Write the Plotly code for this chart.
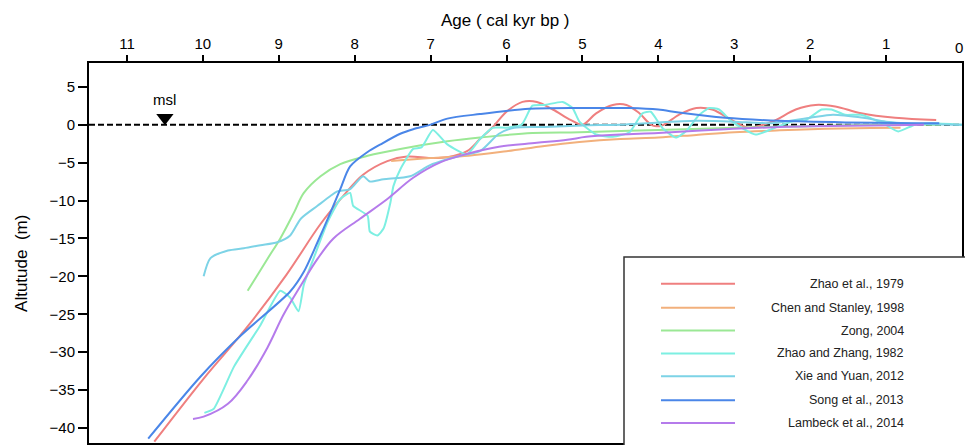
import plotly.graph_objects as go

# ---------------- data (ages in cal kyr BP, altitude in m) ----------------
names = ["Zhao et al., 1979", "Chen and Stanley, 1998", "Zong, 2004",
         "Zhao and Zhang, 1982", "Xie and Yuan, 2012", "Song et al., 2013",
         "Lambeck et al., 2014"]
colors = ["#EF7F7F", "#F2B07C", "#9BE895", "#7DEFE2", "#7DD3E6", "#4A86E8", "#B57BEB"]

zhao1979_age = [10.64, 10.0, 9.41, 8.9, 8.45, 8.15, 7.89, 7.57, 7.31, 7.0, 6.78, 6.52, 6.35, 6.18,
                6.0, 5.79, 5.6, 5.39, 5.15, 5.0, 4.82, 4.6, 4.42, 4.25, 4.08, 3.95, 3.73, 3.5,
                3.29, 3.03, 2.81, 2.5, 2.19, 1.93, 1.67, 1.33, 0.88, 0.34]
zhao1979_alt = [-41.8, -33.6, -26.6, -19.8, -13.1, -9.4, -6.6, -4.8, -4.2, -4.4, -4.3, -3.5, -1.9, -0.3,
                1.7, 3.0, 3.0, 2.0, 0.6, 0.0, 1.5, 2.6, 2.6, 1.5, -0.1, -0.1, 1.3, 2.2,
                2.0, 0.6, -0.4, 0.4, 2.0, 2.6, 2.4, 1.5, 0.9, 0.6]

chen_age = [7.52, 7.0, 6.5, 6.0, 5.5, 5.04, 4.5, 4.0, 3.5, 3.0, 2.4, 1.8, 1.2, 0.81]
chen_alt = [-4.8, -4.4, -4.1, -3.5, -2.8, -2.3, -1.9, -1.7, -1.35, -1.0, -0.75, -0.55, -0.45, -0.4]

zong_age = [9.41, 9.15, 8.98, 8.8, 8.67, 8.45, 8.19, 7.83, 7.4, 6.78, 6.35, 5.66, 5.04, 4.0, 3.0, 2.0, 1.1, 0.28]
zong_alt = [-21.9, -17.7, -15.0, -11.6, -9.0, -6.8, -5.2, -4.1, -3.2, -2.2, -1.7, -1.1, -1.0, -0.7, -0.4, -0.2, 0.0, 0.0]

zz_age = [9.98, 9.86, 9.59, 9.24, 8.98, 8.85, 8.74, 8.67, 8.54, 8.36, 8.19, 8.06, 8.02, 7.83,
          7.8, 7.7, 7.62, 7.53, 7.49, 7.4, 7.23, 7.12, 6.97, 6.78, 6.52, 6.35, 6.18, 6.0,
          5.8, 5.66, 5.5, 5.26, 5.13, 5.04, 4.82, 4.6, 4.38, 4.21, 4.1, 3.95, 3.77, 3.64,
          3.46, 3.33, 3.2, 3.03, 2.72, 2.41, 2.24, 2.06, 1.85, 1.72, 1.54, 1.33, 1.01, 0.84,
          0.62, 0.41, 0.0]
zz_alt = [-38.0, -37.5, -31.9, -26.4, -21.9, -22.8, -24.6, -21.1, -17.6, -12.9, -9.8, -9.0, -10.7, -12.0,
          -14.1, -14.6, -13.7, -10.3, -8.1, -5.9, -3.2, -3.0, -0.7, -2.6, -3.9, -1.9, -0.4, -0.4,
          0.0, 2.5, 2.6, 3.0, 2.2, 0.4, -1.3, -1.6, -1.0, 1.5, 1.7, -0.4, -1.7, -0.9,
          1.3, 2.2, 2.0, 0.4, -1.3, -0.2, 0.4, 0.6, 2.0, 2.0, 1.3, 1.3, 0.0, -0.9,
          0.0, 0.2, 0.0]

xie_age = [9.99, 9.9, 9.67, 9.46, 9.24, 9.02, 8.85, 8.71, 8.49, 8.32, 8.23, 8.06, 7.89, 7.8,
           7.62, 7.27, 7.0, 6.61, 6.35, 6.1, 5.9, 5.5, 5.0, 4.5, 4.0, 3.5, 3.0, 2.5, 2.0,
           1.7, 1.3, 1.0, 0.5, 0.0]
xie_alt = [-20.0, -17.6, -16.6, -16.3, -15.9, -15.5, -14.6, -12.4, -10.7, -9.4, -8.8, -8.5, -6.8, -7.5,
           -7.2, -6.8, -5.3, -4.1, -3.5, -1.2, -0.4, -0.3, -0.1, 0.0, 0.3, 0.5, 0.4, 0.2, 0.9,
           1.3, 0.9, 0.4, 0.1, 0.0]

song_age = [10.72, 10.03, 9.5, 8.85, 8.67, 8.49, 8.32, 8.19, 8.06, 7.83, 7.66, 7.4, 7.23, 7.0,
            6.78, 6.35, 5.7, 5.04, 4.6, 4.38, 4.0, 3.73, 3.12, 2.4, 1.54, 0.67, 0.3]
song_alt = [-41.4, -33.2, -27.8, -22.0, -19.4, -15.5, -11.6, -8.5, -5.5, -3.6, -2.6, -1.2, -0.6, 0.0,
            0.8, 1.4, 2.1, 2.2, 2.2, 2.2, 2.0, 1.6, 0.9, 0.5, 0.3, 0.2, 0.2]

lambeck_age = [10.13, 9.99, 9.67, 9.41, 9.15, 8.94, 8.71, 8.49, 8.28, 7.93, 7.57, 7.23, 6.88,
               6.5, 6.1, 5.6, 5.2, 4.95, 4.5, 4.0, 3.12, 2.4, 1.98, 1.2, 0.5]
lambeck_alt = [-38.8, -38.5, -36.8, -33.7, -29.4, -25.1, -21.2, -17.7, -15.0, -12.4, -9.8, -7.0, -5.0,
               -3.8, -2.9, -2.4, -2.0, -1.6, -1.3, -1.1, -0.6, -0.3, -0.2, -0.1, 0.0]

series_age = [zhao1979_age, chen_age, zong_age, zz_age, xie_age, song_age, lambeck_age]
series_alt = [zhao1979_alt, chen_alt, zong_alt, zz_alt, xie_alt, song_alt, lambeck_alt]
smooth = [1.0, 1.0, 1.0, 0.5, 0.7, 0.8, 1.0]

x_ticks = [11, 10, 9, 8, 7, 6, 5, 4, 3, 2, 1, 0]
y_ticks = [5, 0, -5, -10, -15, -20, -25, -30, -35, -40]
msl_age = 10.5
msl_level = 0.0

# ---------------- figure ----------------
W, H = 965, 445
ML, MR, MT, MB = 89, 3, 63, 0
FONT = "Liberation Sans, Arial, Helvetica, sans-serif"

fig = go.Figure()

# mean sea level dashed line
fig.add_trace(go.Scatter(x=[11.5, 0], y=[msl_level, msl_level], mode="lines",
                         line=dict(color="black", width=2, dash="6px,3px"),
                         showlegend=False, hoverinfo="skip"))

for n, c, xa, ya, s in zip(names, colors, series_age, series_alt, smooth):
    fig.add_trace(go.Scatter(x=xa, y=ya, mode="lines", name=n,
                             line=dict(color=c, width=2, shape="spline", smoothing=s),
                             showlegend=False))

# msl marker
fig.add_trace(go.Scatter(x=[msl_age], y=[msl_level + 0.9], mode="markers",
                         marker=dict(symbol="triangle-down", size=15, color="black"),
                         showlegend=False, hoverinfo="skip"))

pw = W - ML - MR
ph = H - MT - MB

def px(xp):
    return (xp - ML) / pw

def py(yp):
    return (H - MB - yp) / ph

annotations = [
    dict(text="msl", x=msl_age, y=3.3, xref="x", yref="y", showarrow=False,
         xanchor="center", yanchor="middle",
         font=dict(size=15, color="black", family=FONT)),
    dict(text="Age ( cal kyr bp )", x=px(505), y=py(20), xref="paper", yref="paper",
         xanchor="center", yanchor="middle",
         showarrow=False, font=dict(size=17, color="black", family=FONT)),
    dict(text="Altutude  (m)", x=px(22), y=py(265), xref="paper", yref="paper",
         xanchor="center", yanchor="middle",
         showarrow=False, textangle=-90, font=dict(size=17, color="black", family=FONT)),
    # the "0" tick label at the right edge
    dict(text="0", x=0, y=py(47), xref="x", yref="paper", xanchor="right", yanchor="middle",
         xshift=3, showarrow=False, font=dict(size=15, color="black", family=FONT)),
]

shapes = [
    dict(type="rect", xref="paper", yref="paper", x0=px(624), x1=px(975), y0=py(455), y1=py(258),
         line=dict(color="#333333", width=1.5), fillcolor="white", layer="above"),
]
row_y = [285, 309, 332, 355, 378, 402, 425]
for n, c, ry in zip(names, colors, row_y):
    shapes.append(dict(type="line", xref="paper", yref="paper", x0=px(661), x1=px(735),
                       y0=py(ry), y1=py(ry), line=dict(color=c, width=2), layer="above"))
    annotations.append(dict(text=n, x=px(906), y=py(ry), xref="paper", yref="paper",
                            xanchor="right", yanchor="middle", showarrow=False,
                            font=dict(size=12.5, color="#222222", family=FONT)))

fig.update_layout(
    width=W, height=H,
    margin=dict(l=ML, r=MR, t=MT, b=MB, pad=0),
    paper_bgcolor="white", plot_bgcolor="white",
    font=dict(family=FONT, size=15, color="black"),
    xaxis=dict(side="top", range=[11.5, 0], tickvals=x_ticks[:-1], ticktext=[str(v) for v in x_ticks[:-1]],
               showgrid=False, zeroline=False, showline=True, linecolor="black", linewidth=2,
               mirror=True, ticks="outside", ticklen=6, tickwidth=2, tickcolor="black",
               tickfont=dict(size=15, family=FONT)),
    yaxis=dict(range=[-41.97, 8.13], tickvals=y_ticks,
               showgrid=False, zeroline=False, showline=True, linecolor="black", linewidth=2,
               mirror=True, ticks="outside", ticklen=9, tickwidth=2, tickcolor="black",
               tickfont=dict(size=15, family=FONT)),
    annotations=annotations,
    shapes=shapes,
    showlegend=False,
)

fig.write_html("out.html")
